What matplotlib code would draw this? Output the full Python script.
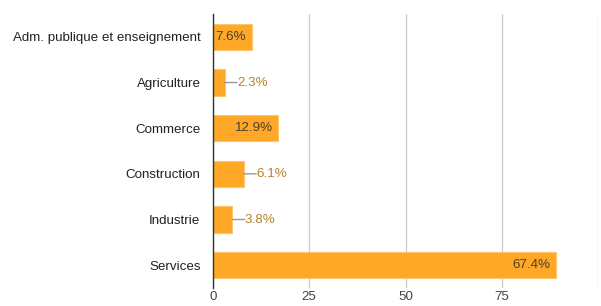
import matplotlib
matplotlib.use("Agg")
import matplotlib.pyplot as plt

categories = ["Adm. publique et enseignement", "Agriculture", "Commerce",
              "Construction", "Industrie", "Services"]
values = [10, 3, 17, 8, 5, 89]
labels = ["7.6%", "2.3%", "12.9%", "6.1%", "3.8%", "67.4%"]
inside = [True, False, True, False, False, True]
xticks = [0, 25, 50, 75, 100]
xticklabels = ["0", "25", "50", "75", ""]

BAR = "#FFA726"
plt.rcParams["font.family"] = ["Liberation Sans", "DejaVu Sans"]

fig = plt.figure(figsize=(6.01, 3.06), dpi=100)
ax = fig.add_axes([213 / 601, 18 / 306, 385 / 601, 274 / 306])

ypos = list(range(len(categories)))
ax.barh(ypos, values, height=0.57, color=BAR, edgecolor="#FFC46E",
        linewidth=0.8, zorder=2)
ax.set_ylim(len(categories) - 0.5, -0.5)
ax.set_xlim(0, 100)
ax.set_yticks(ypos)
ax.set_yticklabels(categories, fontsize=9.6, color="#222222")
ax.set_xticks(xticks)
ax.set_xticklabels(xticklabels, fontsize=9.6, color="#444444")
ax.tick_params(length=0)
ax.tick_params(axis="x", pad=2.5)
ax.tick_params(axis="y", pad=9)
ax.grid(axis="x", color="#cccccc", linewidth=0.9, zorder=0)
for s in ["top", "right", "bottom"]:
    ax.spines[s].set_visible(False)
ax.spines["left"].set_color("#333333")
ax.spines["left"].set_linewidth(1.0)
ax.spines["left"].set_zorder(3)

# value labels: inside the bar when it fits, else outside with a leader line
for y, v, lab, ins in zip(ypos, values, labels, inside):
    if ins:
        ax.annotate(lab, (v, y), xytext=(-4, 0), textcoords="offset points",
                    ha="right", va="center", fontsize=9.6, color="#4a4030", zorder=4)
    else:
        ax.annotate(lab, (v, y), xytext=(9, 0), textcoords="offset points",
                    ha="left", va="center", fontsize=9.6, color="#B8822E",
                    bbox=dict(boxstyle="square,pad=0", fc="none", ec="none"),
                    arrowprops=dict(arrowstyle="-", color="#999999", lw=1,
                                    shrinkA=0, shrinkB=0),
                    zorder=4)

fig.savefig("out.png", dpi=100)
